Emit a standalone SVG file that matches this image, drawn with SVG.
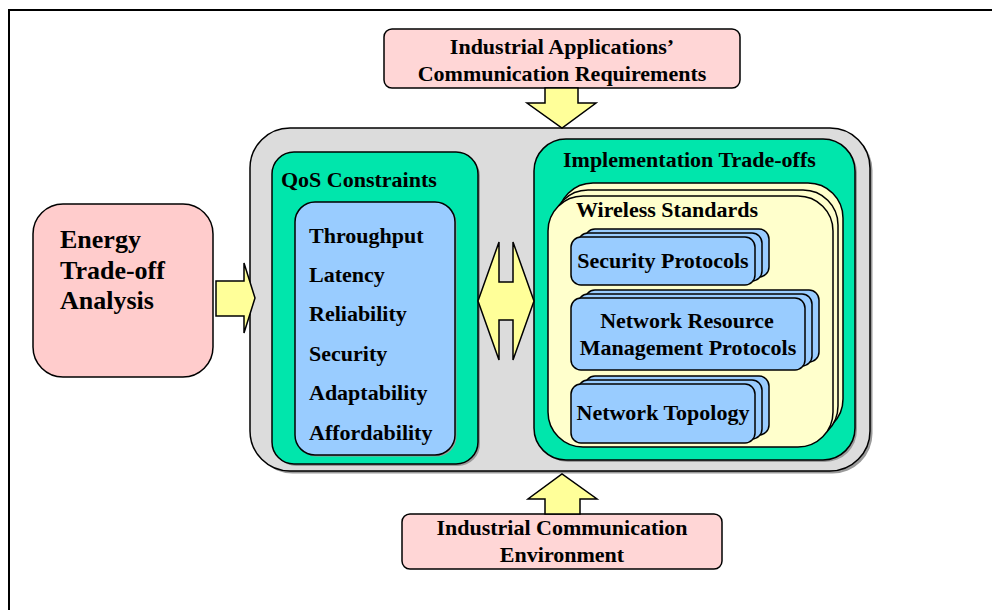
<svg xmlns="http://www.w3.org/2000/svg" width="992" height="610" viewBox="0 0 992 610">
  <style>
    .t { font-family: "Liberation Serif", "Times New Roman", serif; font-weight: bold; font-size: 22px; fill: #000; }
    .big { font-size: 26px; }
    .mid { text-anchor: middle; }
    .ln { stroke: #000; stroke-width: 1.5; }
    .shadow { fill: #9a9a9a; stroke: none; }
    .pink { fill: #ffd6d6; }
    .rose { fill: #ffcccc; }
    .gray { fill: #dcdcdc; }
    .green { fill: #00e6ac; }
    .blue { fill: #99ccff; }
    .cream { fill: #ffffcc; }
    .arrow { fill: #ffff99; stroke: #000; stroke-width: 1.5; stroke-linejoin: miter; }
  </style>

  <!-- outer frame -->
  <rect x="9" y="10" width="1000" height="700" fill="#fff" stroke="#000" stroke-width="2"/>

  <!-- container holding QoS constraints and implementation trade-offs -->
  <g id="core">
    <rect class="shadow" x="252.5" y="130.5" width="620" height="343" rx="40"/>
    <rect class="gray ln" x="250" y="128" width="620" height="343" rx="40"/>
  </g>

  <g id="requirements">
    <rect class="pink ln" x="384" y="29" width="356" height="59" rx="8"/>
    <text class="t mid" x="562" y="54">Industrial Applications’</text>
    <text class="t mid" x="562" y="80.5">Communication Requirements</text>
  </g>

  <g id="environment">
    <rect class="pink ln" x="402" y="514" width="320" height="55" rx="8"/>
    <text class="t mid" x="562" y="535">Industrial Communication</text>
    <text class="t mid" x="562" y="562">Environment</text>
  </g>

  <g id="energy">
    <rect class="rose ln" x="33" y="204" width="180" height="173" rx="30"/>
    <text class="t big" x="60" y="248">Energy</text>
    <text class="t big" x="60" y="279">Trade-off</text>
    <text class="t big" x="60" y="309">Analysis</text>
  </g>

  <g id="qos">
    <rect class="shadow" x="274" y="154" width="206" height="312" rx="22"/>
    <rect class="green ln" x="272" y="152" width="206" height="312" rx="22"/>
    <text class="t" x="281" y="187">QoS Constraints</text>
    <rect class="shadow" x="296.5" y="203.5" width="160" height="253" rx="20"/>
    <rect class="blue ln" x="295" y="202" width="160" height="253" rx="20"/>
    <text class="t" x="309" y="243">Throughput</text>
    <text class="t" x="309" y="282">Latency</text>
    <text class="t" x="309" y="321">Reliability</text>
    <text class="t" x="309" y="361">Security</text>
    <text class="t" x="309" y="400">Adaptability</text>
    <text class="t" x="309" y="440">Affordability</text>
  </g>

  <g id="implementation">
    <rect class="shadow" x="536" y="141" width="321" height="321" rx="32"/>
    <rect class="green ln" x="534" y="139" width="321" height="321" rx="32"/>
    <text class="t" x="563" y="167">Implementation Trade-offs</text>
  </g>

  <g id="wireless-standards">
    <rect class="cream ln" x="558" y="183" width="285" height="251" rx="35"/>
    <rect class="cream ln" x="553" y="190" width="285" height="251" rx="35"/>
    <rect class="cream ln" x="548" y="196" width="285" height="251" rx="35"/>
    <text class="t" x="576" y="217">Wireless Standards</text>
  </g>

  <g id="security-protocols">
    <rect class="blue ln" x="585" y="229" width="184" height="48" rx="10"/>
    <rect class="blue ln" x="578" y="233" width="184" height="48" rx="10"/>
    <rect class="blue ln" x="571" y="237" width="184" height="48" rx="10"/>
    <text class="t mid" x="663" y="268">Security Protocols</text>
  </g>

  <g id="resource-management">
    <rect class="blue ln" x="585" y="290" width="234" height="72" rx="10"/>
    <rect class="blue ln" x="578" y="294" width="234" height="72" rx="10"/>
    <rect class="blue ln" x="571" y="298" width="234" height="72" rx="10"/>
    <text class="t mid" x="687" y="328">Network Resource</text>
    <text class="t mid" x="688" y="355">Management Protocols</text>
  </g>

  <g id="network-topology">
    <rect class="blue ln" x="585" y="376" width="184" height="59" rx="10"/>
    <rect class="blue ln" x="578" y="380" width="184" height="59" rx="10"/>
    <rect class="blue ln" x="571" y="384" width="184" height="59" rx="10"/>
    <text class="t mid" x="663" y="420">Network Topology</text>
  </g>

  <!-- block arrows between the parts -->
  <g id="connectors">
    <polygon class="arrow" points="545,88 578,88 578,103 596,103 562,128 527,103 545,103"/>
    <polygon class="arrow" points="545,514 580,514 580,499 597,499 562,474 528,499 545,499"/>
    <polygon class="arrow" points="216,281 244,281 244,263 255,298 244,333 244,316 216,316"/>
    <polygon class="arrow" points="499,242 499,282 513,282 513,242 534,301 513,360 513,320 499,320 499,360 478,301"/>
  </g>
</svg>
